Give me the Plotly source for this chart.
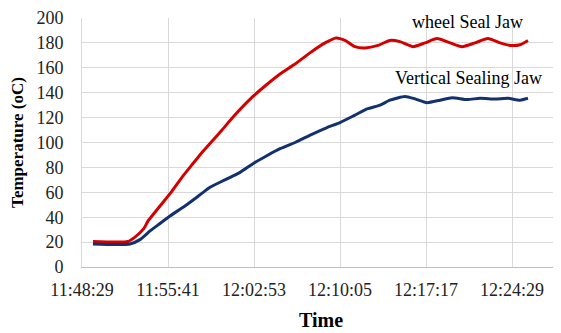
import plotly.graph_objects as go

DAY = "2020-01-01 "

wheel_times = ["11:49:24", "11:52:20", "11:52:55", "11:53:40", "11:54:01", "11:55:01", "11:56:01",
               "11:56:51", "11:57:41", "11:58:32", "11:59:22", "12:00:12", "12:01:08", "12:02:48",
               "12:03:53", "12:05:04", "12:06:19", "12:07:34", "12:08:50", "12:09:45", "12:10:30",
               "12:11:20", "12:12:11", "12:13:16", "12:14:16", "12:15:06", "12:16:12", "12:17:12",
               "12:18:12", "12:19:18", "12:20:18", "12:21:23", "12:22:28", "12:23:29", "12:24:19",
               "12:25:09", "12:25:49"]
wheel_temp = [20.5, 20.5, 24, 31, 37, 49, 61,
              72, 82, 92, 101, 110, 120.5, 137,
              146, 155, 163, 172, 180, 184, 182,
              177, 176, 178, 182, 181, 177, 180,
              183.5, 180, 177, 180, 183.5, 180, 178,
              178.5, 182]

vert_times = ["11:49:24", "11:52:30", "11:53:20", "11:54:11", "11:55:01", "11:55:51", "11:57:06",
              "11:58:22", "11:59:12", "12:00:27", "12:01:43", "12:02:48", "12:03:53", "12:05:04",
              "12:06:19", "12:07:49", "12:09:00", "12:10:05", "12:11:20", "12:12:21", "12:13:26",
              "12:14:16", "12:15:32", "12:16:22", "12:17:22", "12:18:27", "12:19:28", "12:20:43",
              "12:21:48", "12:23:04", "12:24:09", "12:25:09", "12:25:49"]
vert_temp = [18.5, 18.5, 22, 29, 35, 41, 49,
             58, 64, 70, 76, 83, 89, 95,
             100, 107, 112, 116, 122, 127, 130,
             134, 137, 135, 132, 134, 136, 134.5,
             135.5, 135, 135.5, 134, 135.5]

tick_labels = ["11:48:29", "11:55:41", "12:02:53", "12:10:05", "12:17:17", "12:24:29"]
series_names = ["wheel Seal Jaw", "Vertical Sealing Jaw"]

FONT = "Liberation Serif"

fig = go.Figure()
fig.add_trace(go.Scatter(x=[DAY + t for t in wheel_times], y=wheel_temp, mode="lines",
                         name=series_names[0], line=dict(color="#d40000", width=3, shape="spline", smoothing=0.6)))
fig.add_trace(go.Scatter(x=[DAY + t for t in vert_times], y=vert_temp, mode="lines",
                         name=series_names[1], line=dict(color="#13306f", width=3, shape="spline", smoothing=0.6)))

fig.add_annotation(x=DAY + "12:20:43", y=196.5, text=series_names[0], showarrow=False,
                   font=dict(family=FONT, size=18, color="#000"), xanchor="center", yanchor="middle")
fig.add_annotation(x=DAY + "12:20:48", y=151.5, text=series_names[1], showarrow=False,
                   font=dict(family=FONT, size=18, color="#000"), xanchor="center", yanchor="middle")

fig.update_layout(
    width=553, height=325,
    margin=dict(l=74, r=1, t=10, b=66),
    paper_bgcolor="white", plot_bgcolor="white",
    showlegend=False,
    font=dict(family=FONT, size=18, color="#222"),
    xaxis=dict(
        type="date",
        range=[DAY + "11:48:29", DAY + "12:28:30"],
        tickvals=[DAY + t for t in tick_labels],
        ticktext=tick_labels,
        showgrid=True, gridcolor="#d9d9d9", gridwidth=1,
        showline=True, linecolor="#bfbfbf", linewidth=1,
        ticks="", zeroline=False, automargin=False,
        ticklabelstandoff=6,
        tickfont=dict(family=FONT, size=18, color="#222"),
        title=dict(text="<b>Time</b>", font=dict(family=FONT, size=20, color="#000"), standoff=14),
    ),
    yaxis=dict(
        range=[0, 200],
        tickvals=[0, 20, 40, 60, 80, 100, 120, 140, 160, 180, 200],
        showgrid=True, gridcolor="#d9d9d9", gridwidth=1,
        showline=True, linecolor="#d9d9d9", linewidth=1,
        ticks="", zeroline=False, automargin=False,
        ticklabelstandoff=14,
        tickfont=dict(family=FONT, size=18, color="#222"),
        title=dict(text="<b>Temperature (oC)</b>", font=dict(family=FONT, size=17, color="#000"), standoff=8),
    ),
)

fig.write_html("out.html")
